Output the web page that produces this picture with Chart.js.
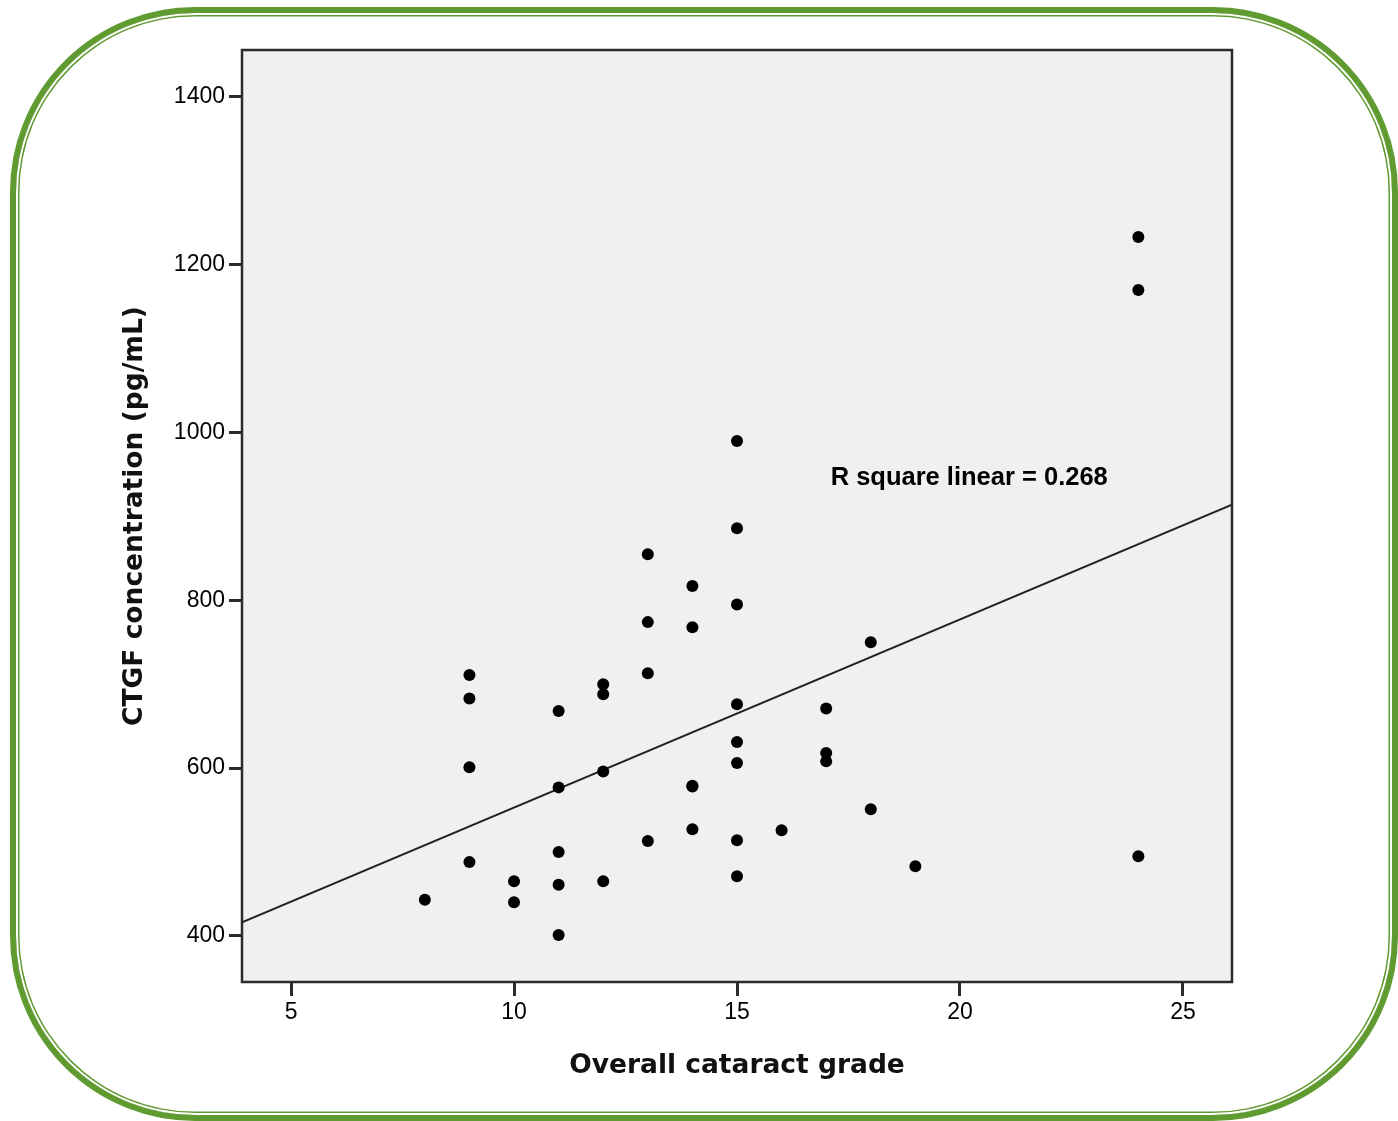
<!DOCTYPE html>
<html>
<head>
<meta charset="utf-8">
<script src="https://cdn.jsdelivr.net/npm/chart.js@4/dist/chart.umd.min.js"></script>
<style>
  body { margin: 0; background: #fff; }
  #wrap { position: relative; width: 1398px; height: 1121px; overflow: hidden; }
  #chart { position: absolute; left: 0; top: 0; }
  #frame {
    position: absolute; left: 10px; top: 7px; width: 1388px; height: 1114px;
    box-sizing: border-box; border: 6px solid #5f9b30; border-radius: 185px;
    box-shadow: inset 0 0 0 2px #fff, inset 0 0 0 3.5px #5f9b30;
    pointer-events: none;
  }
</style>
</head>
<body>
<div id="wrap">
  <canvas id="chart" width="1398" height="1121"></canvas>
  <div id="frame"></div>
</div>
<script>
// cataract grade (x) and CTGF concentration (y)
const grade = [8, 9, 9, 9, 9, 10, 10, 11, 11, 11, 11, 11, 12, 12, 12, 12,
  13, 13, 13, 13, 14, 14, 14, 14, 14, 15, 15, 15, 15, 15, 15, 15, 15,
  16, 17, 17, 17, 18, 18, 19, 24, 24, 24];
const ctgf = [443, 711, 683, 601, 488, 465, 440, 668, 577, 500, 461, 401, 700, 688, 596, 465,
  855, 774, 713, 513, 817, 768, 579, 578, 527, 990, 886, 795, 676, 631, 606, 514, 471,
  526, 671, 618, 608, 750, 551, 483, 1233, 1170, 495];

// fit line end points
const fitX = [3.9, 26.1];
const fitY = [416, 914];

const xTicks = [5, 10, 15, 20, 25];
const yTicks = [400, 600, 800, 1000, 1200, 1400];

const fitLabel = 'R square linear = 0.268';
const fitLabelAt = { x: 17.1, y: 946 };

const points = grade.map((g, i) => ({ x: g, y: ctgf[i] }));
const fitLine = fitX.map((x, i) => ({ x: x, y: fitY[i] }));

const tickFont = { family: '"Liberation Sans", Arial, sans-serif', size: 23 };
const titleFont = { family: '"DejaVu Sans", Verdana, sans-serif', size: 26.5, weight: 'bold' };

const plotFrame = {
  id: 'plotFrame',
  beforeDraw(chart) {
    const { ctx, chartArea: a } = chart;
    ctx.save();
    ctx.fillStyle = '#f0f0f0';
    ctx.fillRect(a.left, a.top, a.right - a.left, a.bottom - a.top);
    ctx.restore();
  },
  afterDraw(chart) {
    const { ctx, chartArea: a, scales } = chart;
    ctx.save();
    ctx.strokeStyle = '#2b2b2b';
    ctx.lineWidth = 2.5;
    ctx.strokeRect(a.left, a.top, a.right - a.left, a.bottom - a.top);
    ctx.fillStyle = '#000';
    ctx.font = 'bold 25.5px "Liberation Sans", Arial, sans-serif';
    ctx.textAlign = 'left';
    ctx.textBaseline = 'middle';
    ctx.fillText(fitLabel, scales.x.getPixelForValue(fitLabelAt.x), scales.y.getPixelForValue(fitLabelAt.y));
    ctx.restore();
  }
};

new Chart(document.getElementById('chart'), {
  type: 'scatter',
  data: {
    datasets: [
      {
        data: points,
        pointRadius: 6,
        pointBackgroundColor: '#000',
        pointBorderWidth: 0,
        order: 1
      },
      {
        type: 'line',
        data: fitLine,
        borderColor: '#222',
        borderWidth: 2,
        pointRadius: 0,
        fill: false,
        order: 2
      }
    ]
  },
  options: {
    responsive: false,
    animation: false,
    events: [],
    layout: { padding: { left: 0, top: 50, right: 166, bottom: 0 } },
    plugins: { legend: { display: false }, tooltip: { enabled: false } },
    scales: {
      x: {
        type: 'linear',
        min: 3.9,
        max: 26.1,
        afterBuildTicks: s => { s.ticks = xTicks.map(v => ({ value: v })); },
        afterFit: s => { s.height = 139; },
        grid: { drawOnChartArea: false, tickLength: 14, tickWidth: 3, tickColor: '#2b2b2b' },
        border: { display: false },
        ticks: { color: '#000', padding: 3, font: tickFont, callback: v => String(v) },
        title: {
          display: true,
          text: 'Overall cataract grade',
          color: '#111',
          padding: { top: 0, bottom: 39 },
          font: titleFont
        }
      },
      y: {
        type: 'linear',
        min: 345,
        max: 1456,
        afterBuildTicks: s => { s.ticks = yTicks.map(v => ({ value: v })); },
        afterFit: s => { s.width = 242; },
        grid: { drawOnChartArea: false, tickLength: 13, tickWidth: 3, tickColor: '#2b2b2b' },
        border: { display: false },
        ticks: { color: '#000', padding: 4, font: tickFont, callback: v => String(v) },
        title: {
          display: true,
          text: 'CTGF concentration (pg/mL)',
          color: '#111',
          padding: { top: 119, bottom: 0 },
          font: titleFont
        }
      }
    }
  },
  plugins: [plotFrame]
});
</script>
</body>
</html>
